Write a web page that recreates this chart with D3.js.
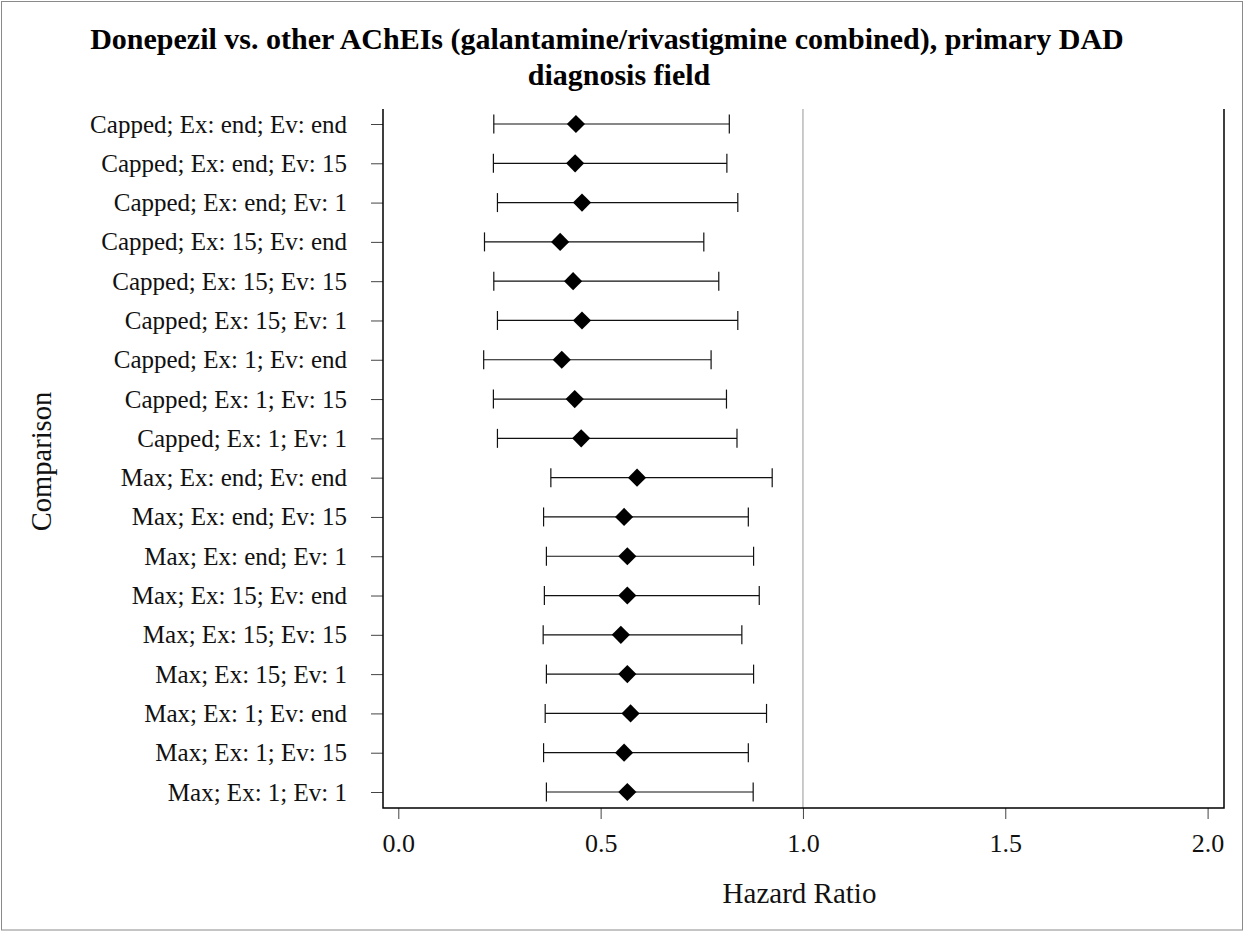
<!DOCTYPE html>
<html>
<head>
<meta charset="utf-8">
<script src="https://cdn.jsdelivr.net/npm/d3@7"></script>
<style>
  body { margin: 0; background: #fff; }
  svg { display: block; }
  svg text { font-family: "Liberation Serif", serif; }
</style>
</head>
<body>
<div id="chart"></div>
<script>
// comparisons, top to bottom
const labels = [
  "Capped; Ex: end; Ev: end",
  "Capped; Ex: end; Ev: 15",
  "Capped; Ex: end; Ev: 1",
  "Capped; Ex: 15; Ev: end",
  "Capped; Ex: 15; Ev: 15",
  "Capped; Ex: 15; Ev: 1",
  "Capped; Ex: 1; Ev: end",
  "Capped; Ex: 1; Ev: 15",
  "Capped; Ex: 1; Ev: 1",
  "Max; Ex: end; Ev: end",
  "Max; Ex: end; Ev: 15",
  "Max; Ex: end; Ev: 1",
  "Max; Ex: 15; Ev: end",
  "Max; Ex: 15; Ev: 15",
  "Max; Ex: 15; Ev: 1",
  "Max; Ex: 1; Ev: end",
  "Max; Ex: 1; Ev: 15",
  "Max; Ex: 1; Ev: 1"
];
const hr    = [0.439, 0.437, 0.454, 0.400, 0.432, 0.454, 0.404, 0.436, 0.452,
               0.590, 0.558, 0.566, 0.566, 0.550, 0.566, 0.574, 0.558, 0.566];
const lower = [0.236, 0.235, 0.245, 0.213, 0.236, 0.245, 0.211, 0.235, 0.245,
               0.377, 0.359, 0.366, 0.361, 0.358, 0.366, 0.363, 0.359, 0.366];
const upper = [0.818, 0.812, 0.839, 0.755, 0.792, 0.839, 0.773, 0.811, 0.837,
               0.924, 0.865, 0.878, 0.892, 0.849, 0.878, 0.910, 0.865, 0.877];
const xTicks = [0, 0.5, 1, 1.5, 2];
const refValue = 1;

const W = 1244, H = 932;
const plot = {left: 383, right: 1224, top: 109, bottom: 808};

const rows = labels.map((d, i) => ({label: d, hr: hr[i], lo: lower[i], hi: upper[i]}));

const svg = d3.select("#chart").append("svg")
  .attr("width", W)
  .attr("height", H);

// outer frame
svg.append("rect")
  .attr("x", 1.5).attr("y", 1.5)
  .attr("width", W - 3).attr("height", H - 3.5)
  .attr("fill", "#fff")
  .attr("stroke", "#8a8a8a");

const x = d3.scaleLinear()
  .domain([0, 2])
  .range([398.3, 1207.6]);

const y = d3.scalePoint()
  .domain(labels)
  .range([124, 792]);

// reference line at HR = 1
svg.append("line")
  .attr("x1", x(refValue)).attr("x2", x(refValue))
  .attr("y1", plot.top).attr("y2", plot.bottom)
  .attr("stroke", "#b4b4b4")
  .attr("stroke-width", 1.4);

// axes
const yAxis = d3.axisLeft(y).tickSize(12).tickPadding(24).tickSizeOuter(0);
const gy = svg.append("g")
  .attr("transform", `translate(${plot.left},0)`)
  .call(yAxis);
gy.select(".domain").remove();
gy.selectAll("line").attr("stroke", "#444");
gy.selectAll("text").attr("font-size", 25).attr("fill", "#111")
  .attr("font-family", "Liberation Serif");

const xAxis = d3.axisBottom(x).tickValues(xTicks).tickFormat(d3.format(".1f"))
  .tickSize(11).tickPadding(15).tickSizeOuter(0);
const gx = svg.append("g")
  .attr("transform", `translate(0,${plot.bottom})`)
  .call(xAxis);
gx.select(".domain").remove();
gx.selectAll("line").attr("stroke", "#444");
gx.selectAll("text").attr("font-size", 26).attr("fill", "#111")
  .attr("font-family", "Liberation Serif");

// frame lines: left, bottom, right (no top)
svg.append("path")
  .attr("d", `M${plot.left},${plot.top}V${plot.bottom}H${plot.right}V${plot.top}`)
  .attr("fill", "none")
  .attr("stroke", "#000")
  .attr("stroke-width", 1.5);

// error bars
const capH = 9.5;
const bars = svg.append("g").selectAll("g")
  .data(rows)
  .enter().append("g");

bars.append("line")
  .attr("x1", d => x(d.lo)).attr("x2", d => x(d.hi))
  .attr("y1", d => y(d.label)).attr("y2", d => y(d.label))
  .attr("stroke", "#111").attr("stroke-width", 1.2);
bars.append("line")
  .attr("x1", d => x(d.lo)).attr("x2", d => x(d.lo))
  .attr("y1", d => y(d.label) - capH).attr("y2", d => y(d.label) + capH)
  .attr("stroke", "#111").attr("stroke-width", 1.2);
bars.append("line")
  .attr("x1", d => x(d.hi)).attr("x2", d => x(d.hi))
  .attr("y1", d => y(d.label) - capH).attr("y2", d => y(d.label) + capH)
  .attr("stroke", "#111").attr("stroke-width", 1.2);

// diamonds
const diamond = d3.symbol().type(d3.symbolSquare).size(165);
bars.append("path")
  .attr("d", diamond)
  .attr("transform", d => `translate(${x(d.hr)},${y(d.label)}) rotate(45)`)
  .attr("fill", "#000");

// titles
const title = svg.append("text")
  .attr("text-anchor", "middle")
  .attr("font-family", "Liberation Serif")
  .attr("font-weight", 700)
  .attr("font-size", 30)
  .attr("fill", "#000");
title.append("tspan").attr("x", 607).attr("y", 48.5)
  .text("Donepezil vs. other AChEIs (galantamine/rivastigmine combined), primary DAD");
title.append("tspan").attr("x", 619).attr("y", 84.5)
  .text("diagnosis field");

svg.append("text")
  .attr("x", (plot.left + plot.right) / 2 - 4)
  .attr("y", 902.5)
  .attr("text-anchor", "middle")
  .attr("font-size", 29)
  .attr("fill", "#111")
  .text("Hazard Ratio");

svg.append("text")
  .attr("transform", `translate(50.5,${(plot.top + plot.bottom) / 2 + 3}) rotate(-90)`)
  .attr("text-anchor", "middle")
  .attr("font-size", 28.5)
  .attr("fill", "#111")
  .text("Comparison");
</script>
</body>
</html>
